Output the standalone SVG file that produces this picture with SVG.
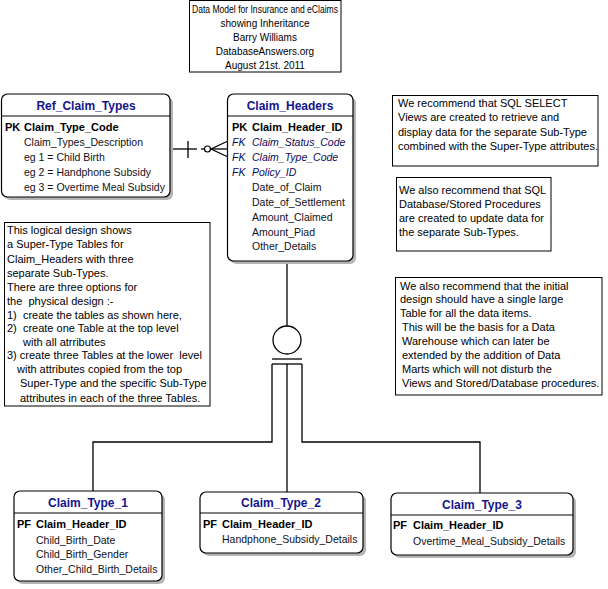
<svg xmlns="http://www.w3.org/2000/svg" width="608" height="589" viewBox="0 0 608 589">
<style>
text{font-family:"Liberation Sans",Arial,sans-serif;font-size:11px;fill:#000;}
.ttl{font-size:12px;font-weight:bold;fill:#14148c;text-anchor:middle;}
.pk{font-weight:bold;fill:#000;}
.fk{font-style:italic;fill:#0a0a5a;font-size:10.5px;}
.at{fill:#10101a;font-size:10.5px;}
.ent{fill:#fff;stroke:#000;stroke-width:1.2;}
.shd{fill:#b4b4b4;}
.div{stroke:#000;stroke-width:1;}
.note{fill:#fff;stroke:#000;stroke-width:1;}
.con{fill:none;stroke:#000;stroke-width:1.3;}
.mid{text-anchor:middle;font-size:10px;}
</style>
<rect width="608" height="589" fill="#fff"/>

<g id="title">
<rect class="note" x="189.5" y="0.5" width="151.5" height="71.5"/>
<text class="mid" x="265" y="12.5" textLength="146" lengthAdjust="spacingAndGlyphs">Data Model for Insurance and eClaims</text>
<text class="mid" x="265" y="26.5">showing Inheritance</text>
<text class="mid" x="265" y="40.5">Barry Williams</text>
<text class="mid" x="265" y="54.5">DatabaseAnswers.org</text>
<text class="mid" x="265" y="68.5">August 21st. 2011</text>
</g>

<g id="connectors">
<line class="con" x1="170" y1="149" x2="197" y2="149"/>
<line class="con" x1="188" y1="141" x2="188" y2="158"/>
<line class="con" x1="201" y1="149" x2="212" y2="149"/>
<circle cx="207.5" cy="149" r="3" fill="#fff" stroke="#000" stroke-width="1.2"/>
<polyline class="con" points="228,141 211,149 228,157"/>
<line class="con" x1="211" y1="149" x2="228" y2="149"/>
<line class="con" x1="287" y1="261" x2="287" y2="326"/>
<circle cx="287" cy="340" r="14" fill="#fff" stroke="#000" stroke-width="1.3"/>
<line class="con" x1="272" y1="359" x2="302" y2="359"/>
<line class="con" x1="272" y1="364" x2="302" y2="364"/>
<polyline class="con" points="272,364 272,442 93,442 93,491"/>
<line class="con" x1="287" y1="364" x2="287" y2="492"/>
<polyline class="con" points="302,364 302,442 480,442 480,493"/>
</g>

<g id="Ref_Claim_Types">
<rect class="shd" x="4.5" y="97" width="168.5" height="103" rx="6"/>
<rect class="ent" x="1.5" y="94" width="168.5" height="103" rx="6"/>
<line class="div" x1="1.5" y1="116" x2="170" y2="116"/>
<text class="ttl" x="86" y="110">Ref_Claim_Types</text>
<text class="pk" x="5" y="131">PK</text>
<text class="pk" x="24" y="131">Claim_Type_Code</text>
<text class="at" x="24" y="146">Claim_Types_Description</text>
<text class="at" x="24" y="161">eg 1 = Child Birth</text>
<text class="at" x="24" y="176">eg 2 = Handphone Subsidy</text>
<text class="at" x="24" y="191">eg 3 = Overtime Meal Subsidy</text>
</g>

<g id="Claim_Headers">
<rect class="shd" x="230.5" y="97" width="125.5" height="167" rx="6"/>
<rect class="ent" x="227.5" y="94" width="125.5" height="167" rx="6"/>
<line class="div" x1="227.5" y1="116" x2="353" y2="116"/>
<text class="ttl" x="290" y="110">Claim_Headers</text>
<text class="pk" x="232" y="131">PK</text>
<text class="pk" x="252" y="131">Claim_Header_ID</text>
<text class="fk" x="232" y="146">FK</text>
<text class="fk" x="252" y="146">Claim_Status_Code</text>
<text class="fk" x="232" y="161">FK</text>
<text class="fk" x="252" y="161">Claim_Type_Code</text>
<text class="fk" x="232" y="176">FK</text>
<text class="fk" x="252" y="176">Policy_ID</text>
<text class="at" x="252" y="191">Date_of_Claim</text>
<text class="at" x="252" y="206">Date_of_Settlement</text>
<text class="at" x="252" y="221">Amount_Claimed</text>
<text class="at" x="252" y="236">Amount_Piad</text>
<text class="at" x="252" y="250">Other_Details</text>
</g>

<g id="note_design">
<rect class="note" x="4.5" y="222.5" width="205.5" height="183.5"/>
<text x="7" y="234">This logical design shows</text>
<text x="7" y="248">a Super-Type Tables for</text>
<text x="7" y="263">Claim_Headers with three</text>
<text x="7" y="277">separate Sub-Types.</text>
<text x="7" y="291">There are three options for</text>
<text x="7" y="305" xml:space="preserve">the  physical design :-</text>
<text x="7" y="319" xml:space="preserve">1)  create the tables as shown here,</text>
<text x="7" y="332" xml:space="preserve">2)  create one Table at the top level</text>
<text x="23" y="346">with all atrributes</text>
<text x="7" y="359" xml:space="preserve">3) create three Tables at the lower  level</text>
<text x="17" y="373">with attributes copied from the top</text>
<text x="20" y="387">Super-Type and the specific Sub-Type</text>
<text x="20" y="402">attributes in each of the three Tables.</text>
</g>

<g id="note_views">
<rect class="note" x="392.5" y="95.5" width="205.5" height="70.5"/>
<text x="398" y="107">We recommend that SQL SELECT</text>
<text x="398" y="121">Views are created to retrieve and</text>
<text x="398" y="136">display data for the separate Sub-Type</text>
<text x="398" y="150">combined with the Super-Type attributes.</text>
</g>

<g id="note_procs">
<rect class="note" x="396.5" y="177.5" width="154.5" height="73.5"/>
<text x="399" y="194">We also recommend that SQL</text>
<text x="399" y="208">Database/Stored Procedures</text>
<text x="399" y="222">are created to update data for</text>
<text x="399" y="236">the separate Sub-Types.</text>
</g>

<g id="note_warehouse">
<rect class="note" x="395.5" y="277.5" width="206.5" height="117.5"/>
<text x="400" y="290">We also recommend that the initial</text>
<text x="400" y="303">design should have a single large</text>
<text x="400" y="317">Table for all the data items.</text>
<text x="402" y="331">This will be the basis for a Data</text>
<text x="402" y="345">Warehouse which can later be</text>
<text x="402" y="359">extended by the addition of Data</text>
<text x="402" y="373">Marts which will not disturb the</text>
<text x="402" y="387">Views and Stored/Database procedures.</text>
</g>

<g id="Claim_Type_1">
<rect class="shd" x="17" y="494" width="148" height="90" rx="6"/>
<rect class="ent" x="14" y="491" width="148" height="90" rx="6"/>
<line class="div" x1="14" y1="513" x2="162" y2="513"/>
<text class="ttl" x="88" y="507">Claim_Type_1</text>
<text class="pk" x="17" y="528">PF</text>
<text class="pk" x="36" y="528">Claim_Header_ID</text>
<text class="at" x="36" y="544">Child_Birth_Date</text>
<text class="at" x="36" y="558">Child_Birth_Gender</text>
<text class="at" x="36" y="573">Other_Child_Birth_Details</text>
</g>

<g id="Claim_Type_2">
<rect class="shd" x="203" y="495" width="163" height="61" rx="6"/>
<rect class="ent" x="200" y="492" width="163" height="61" rx="6"/>
<line class="div" x1="200" y1="513" x2="363" y2="513"/>
<text class="ttl" x="281" y="507">Claim_Type_2</text>
<text class="pk" x="203" y="528">PF</text>
<text class="pk" x="222" y="528">Claim_Header_ID</text>
<text class="at" x="222" y="543">Handphone_Subsidy_Details</text>
</g>

<g id="Claim_Type_3">
<rect class="shd" x="394" y="496" width="182" height="62" rx="6"/>
<rect class="ent" x="391" y="493" width="182" height="62" rx="6"/>
<line class="div" x1="391" y1="515" x2="573" y2="515"/>
<text class="ttl" x="482" y="509">Claim_Type_3</text>
<text class="pk" x="393" y="529">PF</text>
<text class="pk" x="413" y="529">Claim_Header_ID</text>
<text class="at" x="413" y="545">Overtime_Meal_Subsidy_Details</text>
</g>
</svg>
